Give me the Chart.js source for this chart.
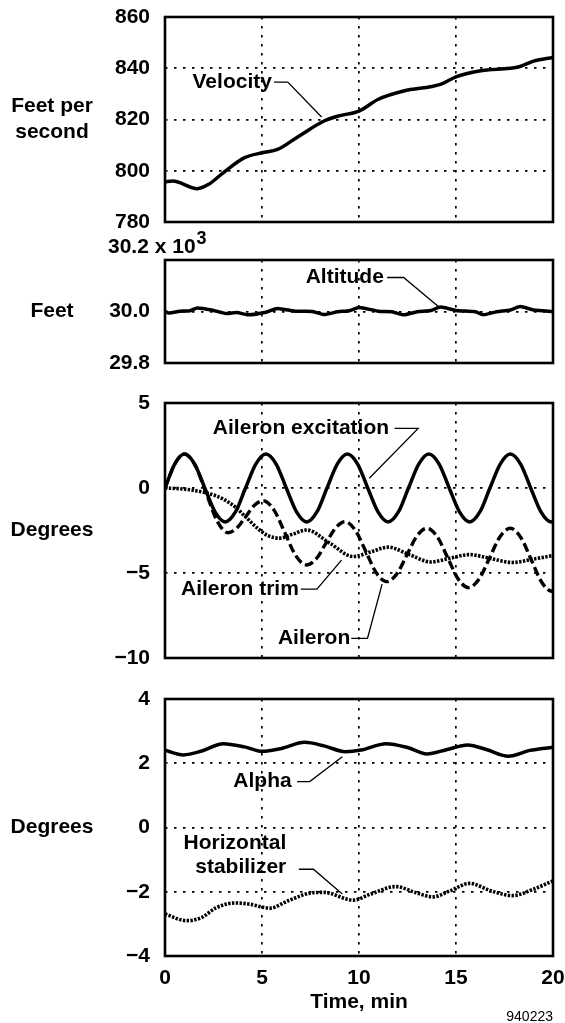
<!DOCTYPE html>
<html>
<head>
<meta charset="utf-8">
<title>Flight test time histories</title>
<script src="https://cdn.jsdelivr.net/npm/chart.js@4.4.1/dist/chart.umd.min.js"></script>
<style>
  html, body { margin: 0; padding: 0; background: #fff; }
  #wrap { position: relative; width: 565px; height: 1023px; }
  #wrap canvas { position: absolute; left: 0; top: 0; }
</style>
</head>
<body>
<div id="wrap">
  <canvas id="velocity" width="565" height="1023"></canvas>
  <canvas id="altitude" width="565" height="1023"></canvas>
  <canvas id="aileron" width="565" height="1023"></canvas>
  <canvas id="alpha" width="565" height="1023"></canvas>
</div>
<script>
// --- values (time in min) ---
const timeTicks = [0, 5, 10, 15, 20];

const velocityMin = [0, 0.4, 1.66, 2.25, 3.0, 4.1, 5.0, 5.8, 6.9, 8.2, 8.96, 10.0, 11.0, 12.3, 14.2, 15.0, 16.2, 18.3, 19.0, 20.0];
const velocityFps = [795.7, 796.0, 793.0, 794.7, 799.2, 805.1, 807.0, 808.3, 813.5, 819.4, 821.4, 823.3, 827.9, 831.1, 833.7, 836.6, 838.9, 840.7, 842.8, 844.2];

const altitudeMin = [0, 0.2, 0.76, 1.3, 1.66, 2.4, 3.15, 3.7, 4.3, 5.2, 5.8, 6.7, 7.6, 8.2, 8.9, 9.5, 10.0, 11.0, 11.7, 12.3, 13.0, 13.7, 14.2, 15.0, 16.0, 16.4, 17.1, 17.8, 18.3, 19.0, 20.0];
const altitudeKft = [30.0, 29.994, 30.001, 30.003, 30.014, 30.006, 29.992, 29.996, 29.987, 29.997, 30.012, 30.001, 30.0, 29.988, 29.999, 30.003, 30.016, 30.001, 29.999, 29.987, 29.999, 30.004, 30.017, 30.004, 29.999, 29.987, 29.999, 30.006, 30.019, 30.006, 30.0];

const excitationMin = [0, 0.5, 1.0, 1.53, 2.05, 2.58, 3.1, 3.63, 4.15, 4.68, 5.2, 5.73, 6.25, 6.78, 7.3, 7.83, 8.35, 8.88, 9.4, 9.93, 10.45, 10.98, 11.5, 12.03, 12.55, 13.08, 13.6, 14.13, 14.65, 15.18, 15.7, 16.23, 16.75, 17.28, 17.8, 18.33, 18.85, 19.38, 19.9, 20];
const excitationDeg = [0, 1.41, 2, 1.41, 0, -1.41, -2, -1.41, 0, 1.41, 2, 1.41, 0, -1.41, -2, -1.41, 0, 1.41, 2, 1.41, 0, -1.41, -2, -1.41, 0, 1.41, 2, 1.41, 0, -1.41, -2, -1.41, 0, 1.41, 2, 1.41, 0, -1.41, -2, -1.98];

const aileronMin = [0, 0.5, 1.0, 1.56, 2.13, 2.69, 3.25, 3.7, 4.16, 4.61, 5.06, 5.62, 6.18, 6.74, 7.3, 7.8, 8.29, 8.79, 9.28, 9.82, 10.36, 10.89, 11.43, 11.95, 12.47, 12.98, 13.5, 14.04, 14.58, 15.11, 15.65, 16.19, 16.73, 17.26, 17.8, 18.34, 18.88, 19.41, 19.95, 20];
const aileronDeg = [0, 1.41, 2.0, 1.32, -0.32, -1.95, -2.63, -2.36, -1.69, -1.02, -0.75, -1.3, -2.64, -3.98, -4.53, -4.16, -3.26, -2.35, -1.98, -2.5, -3.75, -4.99, -5.51, -5.05, -3.94, -2.83, -2.37, -2.88, -4.12, -5.35, -5.86, -5.35, -4.12, -2.88, -2.37, -2.91, -4.22, -5.53, -6.07, -6.07];

const trimMin = [0, 0.95, 1.9, 2.6, 3.0, 3.6, 4.2, 4.8, 5.3, 5.9, 6.6, 7.3, 8.5, 9.7, 10.6, 11.5, 12.6, 13.7, 14.7, 15.7, 16.8, 17.9, 19.0, 20];
const trimDeg = [0, -0.06, -0.23, -0.45, -0.65, -1.1, -1.75, -2.4, -2.8, -2.95, -2.71, -2.47, -3.25, -4.03, -3.76, -3.48, -3.92, -4.35, -4.13, -3.92, -4.15, -4.38, -4.18, -3.97];

const alphaMin = [0, 0.95, 1.9, 3.0, 4.1, 5.0, 6.0, 7.2, 8.2, 9.3, 10.1, 11.4, 12.5, 13.5, 14.5, 15.6, 16.6, 17.7, 18.8, 20];
const alphaDeg = [2.41, 2.26, 2.38, 2.61, 2.51, 2.37, 2.46, 2.65, 2.54, 2.36, 2.41, 2.61, 2.49, 2.29, 2.42, 2.57, 2.42, 2.22, 2.40, 2.50];

const stabMin = [0, 1.1, 1.9, 2.6, 3.6, 4.3, 5.4, 6.35, 7.5, 8.2, 9.7, 10.6, 11.9, 12.9, 13.8, 14.7, 15.7, 16.8, 17.9, 19.0, 20];
const stabDeg = [-2.69, -2.9, -2.8, -2.51, -2.35, -2.38, -2.51, -2.28, -2.04, -2.02, -2.26, -2.07, -1.84, -2.02, -2.16, -1.97, -1.74, -1.97, -2.12, -1.92, -1.66];

// y tick ranges per panel: [min, max, step]
const velocityTicks = [780, 860, 20];
const altitudeTicks = [29.8, 30.2, 0.2];
const aileronTicks = [-10, 5, 5];
const alphaTicks = [-4, 4, 2];

// --- layout ---
const W = 565, H = 1023;
const PLOT_LEFT = 165, PLOT_RIGHT = 553;
const FAMILY = '"Liberation Sans", Arial, Helvetica, sans-serif';
const FONT = 'bold 21px ' + FAMILY;
const DOTS = [2.5, 6.5];

Chart.defaults.font.family = FAMILY;
Chart.defaults.font.size = 21;
Chart.defaults.font.weight = 'bold';
Chart.defaults.color = '#000';

function fmtTick(v) {
  const r = Math.round(v * 10) / 10;
  return r < 0 ? '\u2212' + Math.abs(r) : String(r);
}

function series(xs, ys) {
  return xs.map((x, i) => ({ x: x, y: ys[i] }));
}

function lineSet(label, xs, ys, extra) {
  return Object.assign({
    label: label,
    data: series(xs, ys),
    borderColor: '#000',
    borderWidth: 3.5,
    pointRadius: 0,
    fill: false,
    tension: 0.4,
    cubicInterpolationMode: 'monotone',
    borderCapStyle: 'butt'
  }, extra || {});
}

// frame, axis titles, callouts
function decor(cfg) {
  return {
    id: 'decor',
    afterDraw(chart) {
      const ctx = chart.ctx, a = chart.chartArea;
      const xs = chart.scales.x, ys = chart.scales.y;
      ctx.save();
      ctx.fillStyle = '#000';
      ctx.strokeStyle = '#000';
      ctx.font = FONT;
      ctx.textBaseline = 'middle';

      ctx.textAlign = 'center';
      const mid = (a.top + a.bottom) / 2;
      cfg.title.forEach((t, i) => {
        ctx.fillText(t, 52, mid + (i - (cfg.title.length - 1) / 2) * 26);
      });

      ctx.lineWidth = 1.3;
      (cfg.notes || []).forEach(n => {
        ctx.textAlign = 'right';
        const tx = xs.getPixelForValue(n.at[0]);
        const ty = ys.getPixelForValue(n.at[1]);
        n.text.forEach((t, i) => ctx.fillText(t, tx, ty + i * 23.5));
        ctx.beginPath();
        n.leader.forEach((p, i) => {
          const px = xs.getPixelForValue(p[0]), py = ys.getPixelForValue(p[1]);
          if (i) ctx.lineTo(px, py); else ctx.moveTo(px, py);
        });
        ctx.stroke();
      });

      if (cfg.extra) cfg.extra(ctx, a);

      ctx.lineWidth = 2.6;
      ctx.strokeRect(a.left, a.top, a.right - a.left, a.bottom - a.top);
      ctx.restore();
    }
  };
}

function panel(id, box, yTicks, datasets, cfg, showTime) {
  const xh = showTime ? 30 : 0;
  const grid = { color: '#000', lineWidth: 1.7, drawTicks: false };
  return new Chart(document.getElementById(id), {
    type: 'line',
    data: { datasets: datasets },
    options: {
      responsive: false,
      animation: false,
      devicePixelRatio: 1,
      events: [],
      layout: { padding: { left: 0, right: W - PLOT_RIGHT, top: box.top, bottom: H - box.bottom - xh } },
      plugins: { legend: { display: false }, tooltip: { enabled: false } },
      scales: {
        x: {
          type: 'linear', min: timeTicks[0], max: timeTicks[timeTicks.length - 1],
          afterBuildTicks: s => { s.ticks = timeTicks.map(v => ({ value: v })); },
          ticks: { display: showTime, padding: 10, maxRotation: 0 },
          grid: grid,
          border: { display: false, dash: DOTS },
          afterFit: s => { s.height = xh; s.paddingLeft = 0; s.paddingRight = 0; }
        },
        y: {
          min: yTicks[0], max: yTicks[1],
          ticks: { stepSize: yTicks[2], padding: 15, callback: cfg.tickFmt || fmtTick },
          grid: grid,
          border: { display: false, dash: DOTS },
          afterFit: s => { s.width = PLOT_LEFT; s.paddingTop = 0; s.paddingBottom = 0; }
        }
      }
    },
    plugins: [decor(cfg)]
  });
}

const dashed = { borderDash: [9, 4], borderWidth: 3.4 };
const dotted = { borderDash: [2.4, 1.4], borderWidth: 3.6 };

panel('velocity', { top: 17, bottom: 222 }, velocityTicks,
  [lineSet('Velocity', velocityMin, velocityFps)],
  {
    title: ['Feet per', 'second'],
    notes: [{ text: ['Velocity'], at: [5.51, 834.6], leader: [[5.62, 834.6], [6.33, 834.6], [8.07, 821.0]] }]
  });

panel('altitude', { top: 260, bottom: 363 }, altitudeTicks,
  [lineSet('Altitude', altitudeMin, altitudeKft, { cubicInterpolationMode: 'default', tension: 0.2 })],
  {
    title: ['Feet'],
    tickFmt: v => (Math.abs(v - altitudeTicks[1]) < 1e-6 ? '' : v.toFixed(1)),
    notes: [{ text: ['Altitude'], at: [11.28, 30.132], leader: [[11.45, 30.132], [12.3, 30.132], [14.12, 30.017]] }],
    extra(ctx, a) {
      const base = altitudeTicks[1].toFixed(1) + ' x 10';
      ctx.textAlign = 'left';
      ctx.font = FONT;
      const x0 = a.left - 57, y0 = a.top - 12.5;
      ctx.fillText(base, x0, y0);
      const w = ctx.measureText(base).width;
      ctx.font = 'bold 18px ' + FAMILY;
      ctx.fillText('3', x0 + w + 1, y0 - 8);
    }
  });

panel('aileron', { top: 403, bottom: 658 }, aileronTicks,
  [
    lineSet('Aileron excitation', excitationMin, excitationDeg),
    lineSet('Aileron', aileronMin, aileronDeg, dashed),
    lineSet('Aileron trim', trimMin, trimDeg, dotted)
  ],
  {
    title: ['Degrees'],
    notes: [
      { text: ['Aileron excitation'], at: [11.55, 3.51], leader: [[11.83, 3.51], [13.05, 3.51], [10.53, 0.57]] },
      { text: ['Aileron trim'], at: [6.9, -5.95], leader: [[7.0, -5.95], [7.83, -5.95], [9.1, -4.24]] },
      { text: ['Aileron'], at: [9.55, -8.84], leader: [[9.6, -8.84], [10.44, -8.84], [11.19, -5.65]] }
    ]
  });

panel('alpha', { top: 699, bottom: 956 }, alphaTicks,
  [
    lineSet('Alpha', alphaMin, alphaDeg),
    lineSet('Horizontal stabilizer', stabMin, stabDeg, dotted)
  ],
  {
    title: ['Degrees'],
    notes: [
      { text: ['Alpha'], at: [6.53, 1.43], leader: [[6.81, 1.43], [7.46, 1.43], [9.14, 2.2]] },
      { text: ['Horizontal', 'stabilizer'], at: [6.25, -0.49], leader: [[6.9, -1.3], [7.65, -1.3], [9.14, -2.07]] }
    ],
    extra(ctx, a) {
      ctx.textAlign = 'center';
      ctx.font = FONT;
      ctx.fillText('Time, min', (a.left + a.right) / 2, a.bottom + 46);
      ctx.textAlign = 'right';
      ctx.font = '14px ' + FAMILY;
      ctx.fillText('940223', a.right, a.bottom + 61);
    }
  }, true);
</script>
</body>
</html>
